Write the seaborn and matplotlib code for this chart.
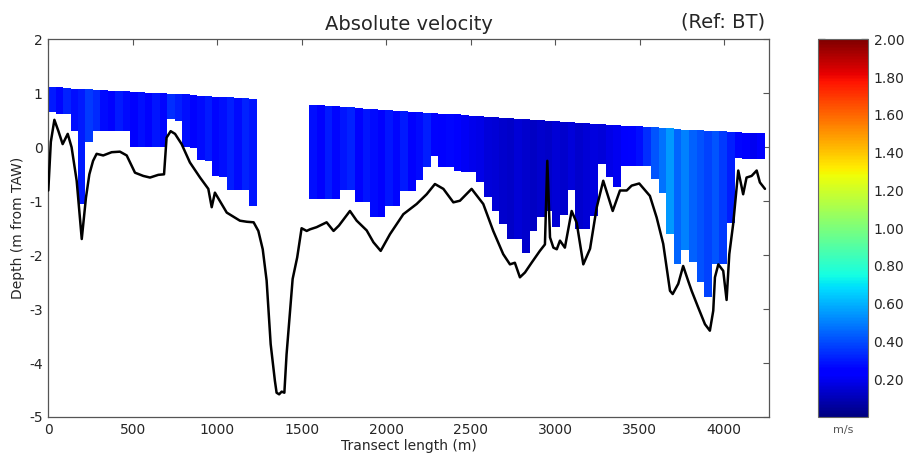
import matplotlib
matplotlib.use("Agg")
import matplotlib.pyplot as plt
import numpy as np
import pandas as pd
import seaborn as sns
from matplotlib.cm import ScalarMappable
from matplotlib.colors import Normalize

# bed level along the transect (m, m from TAW)
bed_x = [0, 15, 36, 60, 85, 115, 138, 168, 198, 223, 243, 265, 286, 325, 375, 424, 464,
         513, 562, 602, 651, 685, 700, 724, 750, 789, 838, 898, 947, 967, 986, 1056, 1134,
         1175, 1215, 1243, 1269, 1292, 1316, 1341, 1351, 1366, 1381, 1397, 1410, 1446, 1473,
         1499, 1529, 1549, 1588, 1647, 1688, 1720, 1785, 1825, 1884, 1924, 1967, 2022, 2101,
         2180, 2239, 2288, 2338, 2397, 2436, 2505, 2574, 2633, 2692, 2732, 2761, 2791, 2821,
         2860, 2909, 2939, 2953, 2969, 2989, 3009, 3028, 3057, 3097, 3127, 3166, 3206, 3245,
         3284, 3340, 3383, 3423, 3452, 3497, 3560, 3600, 3639, 3679, 3695, 3728, 3757, 3787,
         3807, 3846, 3886, 3915, 3935, 3945, 3965, 3994, 4014, 4030, 4053, 4083, 4112, 4132,
         4162, 4192, 4211, 4241]
bed_depth = [-0.80, 0.10, 0.51, 0.30, 0.06, 0.25, 0.00, -0.62, -1.70, -0.93, -0.50, -0.25,
             -0.12, -0.15, -0.09, -0.08, -0.15, -0.47, -0.53, -0.56, -0.51, -0.50, 0.18, 0.30,
             0.25, 0.06, -0.28, -0.56, -0.77, -1.11, -0.84, -1.21, -1.36, -1.38, -1.39, -1.55,
             -1.89, -2.47, -3.65, -4.33, -4.55, -4.58, -4.53, -4.55, -3.84, -2.44, -2.04, -1.50,
             -1.55, -1.52, -1.48, -1.39, -1.55, -1.45, -1.18, -1.36, -1.54, -1.76, -1.92, -1.61,
             -1.24, -1.05, -0.87, -0.68, -0.77, -1.02, -0.99, -0.77, -1.05, -1.55, -1.98, -2.17,
             -2.14, -2.41, -2.32, -2.14, -1.92, -1.80, -0.25, -1.67, -1.86, -1.89, -1.73, -1.86,
             -1.18, -1.40, -2.17, -1.88, -1.12, -0.62, -1.18, -0.80, -0.80, -0.71, -0.67, -0.90,
             -1.30, -1.79, -2.66, -2.72, -2.53, -2.20, -2.48, -2.66, -2.97, -3.28, -3.40, -3.03,
             -2.41, -2.17, -2.29, -2.83, -1.98, -1.42, -0.43, -0.87, -0.56, -0.53, -0.43, -0.65,
             -0.77]

# first measured stretch: 28 ensemble groups between 0 and 1233 m
seg_a_start, seg_a_end = 0, 1233
seg_a_surface = [1.12, 1.11, 1.10, 1.09, 1.08, 1.08, 1.07, 1.06, 1.05, 1.05, 1.04, 1.03,
                 1.02, 1.01, 1.01, 1.00, 0.99, 0.98, 0.98, 0.97, 0.96, 0.95, 0.94, 0.94,
                 0.93, 0.92, 0.91, 0.90]
seg_a_bottom = [0.65, 0.62, 0.62, 0.31, -1.05, 0.10, 0.31, 0.31, 0.31, 0.31, 0.31, 0.00,
                0.00, 0.00, 0.00, 0.00, 0.52, 0.49, 0.00, -0.02, -0.24, -0.26, -0.53, -0.55,
                -0.80, -0.80, -0.80, -1.08]
seg_a_speed = [0.30, 0.26, 0.32, 0.28, 0.30, 0.36, 0.33, 0.27, 0.25, 0.30, 0.27, 0.24,
               0.28, 0.25, 0.29, 0.26, 0.34, 0.31, 0.28, 0.25, 0.27, 0.30, 0.26, 0.28,
               0.31, 0.27, 0.32, 0.29]

# second measured stretch: 60 ensemble groups between 1545 and 4241 m
seg_b_start, seg_b_end = 1545, 4241
seg_b_surface = [0.79, 0.78, 0.77, 0.76, 0.75, 0.74, 0.73, 0.72, 0.71, 0.70, 0.69, 0.68,
                 0.67, 0.66, 0.65, 0.64, 0.63, 0.62, 0.62, 0.61, 0.60, 0.59, 0.58, 0.57,
                 0.56, 0.55, 0.54, 0.53, 0.52, 0.51, 0.50, 0.49, 0.48, 0.47, 0.47, 0.46,
                 0.45, 0.44, 0.43, 0.42, 0.41, 0.40, 0.40, 0.39, 0.38, 0.37, 0.36, 0.35,
                 0.34, 0.33, 0.33, 0.32, 0.31, 0.30, 0.30, 0.29, 0.28, 0.27, 0.27, 0.26]
seg_b_bottom = [-0.96, -0.96, -0.96, -0.96, -0.80, -0.80, -1.02, -1.02, -1.29, -1.29,
                -1.08, -1.08, -0.81, -0.81, -0.61, -0.37, -0.16, -0.37, -0.37, -0.43,
                -0.45, -0.45, -0.65, -0.93, -1.18, -1.42, -1.70, -1.70, -1.95, -1.55,
                -1.30, -1.18, -1.48, -1.25, -0.80, -1.51, -1.51, -1.27, -0.31, -0.55,
                -0.74, -0.34, -0.34, -0.34, -0.34, -0.59, -0.84, -1.61, -2.17, -1.90,
                -2.13, -2.50, -2.78, -2.16, -2.16, -1.40, -0.19, -0.22, -0.22, -0.22]
seg_b_speed = [0.28, 0.24, 0.30, 0.26, 0.29, 0.32, 0.25, 0.29, 0.27, 0.24, 0.29, 0.26,
               0.30, 0.24, 0.27, 0.31, 0.25, 0.23, 0.26, 0.22, 0.21, 0.19, 0.18, 0.16,
               0.15, 0.14, 0.13, 0.15, 0.14, 0.12, 0.14, 0.13, 0.15, 0.14, 0.16, 0.14,
               0.15, 0.17, 0.16, 0.18, 0.20, 0.23, 0.25, 0.28, 0.34, 0.42, 0.47, 0.55,
               0.45, 0.50, 0.44, 0.41, 0.38, 0.42, 0.36, 0.31, 0.26, 0.22, 0.20, 0.23]

cbar_ticks = [0.2, 0.4, 0.6, 0.8, 1.0, 1.2, 1.4, 1.6, 1.8, 2.0]
x_ticks = [0, 500, 1000, 1500, 2000, 2500, 3000, 3500, 4000]


def draw_segment(ax, start, end, surface, bottom, speed, cmap, norm):
    edges = np.linspace(start, end, len(speed) + 1)
    seg = pd.DataFrame({
        "x": (edges[:-1] + edges[1:]) / 2,
        "width": np.diff(edges),
        "top": surface,
        "bottom": bottom,
        "speed": speed,
    })
    ax.bar(seg["x"], seg["top"] - seg["bottom"], bottom=seg["bottom"],
           width=seg["width"], color=cmap(norm(seg["speed"])),
           linewidth=0, align="center", zorder=1)


sns.set_style("white")
plt.rcParams["font.family"] = ["DejaVu Sans"]
plt.rcParams["axes.unicode_minus"] = False

fig = plt.figure(figsize=(9.06, 4.63), dpi=100)
ax = fig.add_axes([0.0533, 0.0994, 0.7955, 0.8153])
cax = fig.add_axes([0.9029, 0.0994, 0.0552, 0.8153])

cmap = plt.get_cmap("jet")
norm = Normalize(vmin=0.0, vmax=2.0)

draw_segment(ax, seg_a_start, seg_a_end, seg_a_surface, seg_a_bottom, seg_a_speed, cmap, norm)
draw_segment(ax, seg_b_start, seg_b_end, seg_b_surface, seg_b_bottom, seg_b_speed, cmap, norm)

bed = pd.DataFrame({"x": bed_x, "depth": bed_depth})
sns.lineplot(data=bed, x="x", y="depth", color="black", linewidth=1.8,
             estimator=None, sort=False, ax=ax, zorder=3)

ax.set_xlim(0, 4265)
ax.set_ylim(-5, 2)
ax.set_xticks(x_ticks)
ax.set_yticks(range(-5, 3))
ax.tick_params(direction="in", length=4, width=0.8, color="#555555",
               top=True, right=True, labelsize=10, pad=4)
for sp in ax.spines.values():
    sp.set_color("#555555")
    sp.set_linewidth(0.9)
ax.set_xlabel("Transect length (m)", fontsize=10, labelpad=2)
ax.set_ylabel("Depth (m from TAW)", fontsize=10, labelpad=3)
ax.set_title("Absolute velocity", fontsize=14, pad=7)
ax.text(0.995, 1.02, "(Ref: BT)", transform=ax.transAxes, ha="right", va="bottom",
        fontsize=14)

sm = ScalarMappable(norm=norm, cmap=cmap)
cb = fig.colorbar(sm, cax=cax)
cb.set_ticks(cbar_ticks)
cb.set_ticklabels([f"{t:.2f}" for t in cbar_ticks])
cb.outline.set_edgecolor("#666666")
cb.outline.set_linewidth(0.8)
cax.tick_params(direction="in", length=5, width=0.9, color="#444444",
                left=True, right=True, labelsize=10, pad=4)
cax.text(0.5, -0.022, "m/s", transform=cax.transAxes, ha="center", va="top",
         fontsize=8, color="#555555")

fig.savefig("out.png", dpi=100)
